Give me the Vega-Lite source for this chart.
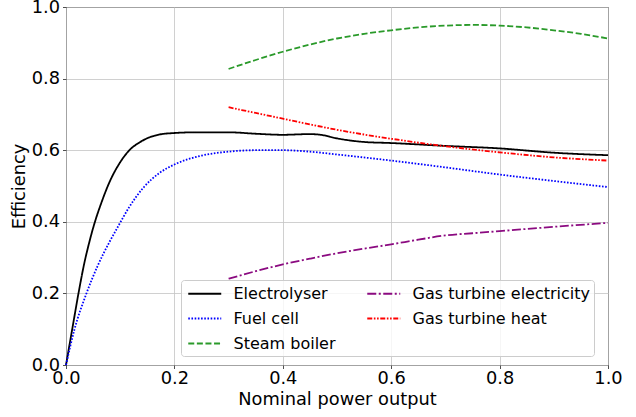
{
  "$schema": "https://vega.github.io/schema/vega-lite/v6.json",
  "width": 542,
  "height": 358,
  "autosize": "none",
  "padding": {"left": 66, "top": 7, "right": 28, "bottom": 52},
  "background": "white",
  "config": {
    "font": "DejaVu Sans",
    "view": {"stroke": "#222", "strokeWidth": 1},
    "axis": {
      "labelFontSize": 17.8, "titleFontSize": 17.8, "labelColor": "black", "titleColor": "black",
      "titleFontWeight": "normal", "gridColor": "#c4c4c4", "gridWidth": 0.8,
      "tickColor": "#222", "tickSize": 3.5, "tickWidth": 0.8, "domain": false, "labelPadding": 3
    },
    "legend": {
      "labelFontSize": 16, "labelColor": "black", "labelFont": "DejaVu Sans"
    }
  },
  "data": {
    "values": [
      {"series": "Electrolyser", "x": 0, "y": 0},
      {"series": "Electrolyser", "x": 0.0125, "y": 0.109},
      {"series": "Electrolyser", "x": 0.023, "y": 0.2},
      {"series": "Electrolyser", "x": 0.034, "y": 0.286},
      {"series": "Electrolyser", "x": 0.043, "y": 0.343},
      {"series": "Electrolyser", "x": 0.0526, "y": 0.396},
      {"series": "Electrolyser", "x": 0.065, "y": 0.452},
      {"series": "Electrolyser", "x": 0.08, "y": 0.51},
      {"series": "Electrolyser", "x": 0.099, "y": 0.564},
      {"series": "Electrolyser", "x": 0.117, "y": 0.6},
      {"series": "Electrolyser", "x": 0.136, "y": 0.622},
      {"series": "Electrolyser", "x": 0.154, "y": 0.636},
      {"series": "Electrolyser", "x": 0.173, "y": 0.644},
      {"series": "Electrolyser", "x": 0.2, "y": 0.648},
      {"series": "Electrolyser", "x": 0.24, "y": 0.65},
      {"series": "Electrolyser", "x": 0.3, "y": 0.65},
      {"series": "Electrolyser", "x": 0.35, "y": 0.646},
      {"series": "Electrolyser", "x": 0.4, "y": 0.643},
      {"series": "Electrolyser", "x": 0.45, "y": 0.645},
      {"series": "Electrolyser", "x": 0.47, "y": 0.643},
      {"series": "Electrolyser", "x": 0.5, "y": 0.633},
      {"series": "Electrolyser", "x": 0.55, "y": 0.623},
      {"series": "Electrolyser", "x": 0.6, "y": 0.62},
      {"series": "Electrolyser", "x": 0.7, "y": 0.612},
      {"series": "Electrolyser", "x": 0.8, "y": 0.605},
      {"series": "Electrolyser", "x": 0.9, "y": 0.593},
      {"series": "Electrolyser", "x": 1.0, "y": 0.586},
      {"series": "Fuel cell", "x": 0, "y": 0},
      {"series": "Fuel cell", "x": 0.0157, "y": 0.1},
      {"series": "Fuel cell", "x": 0.037, "y": 0.197},
      {"series": "Fuel cell", "x": 0.0587, "y": 0.278},
      {"series": "Fuel cell", "x": 0.08, "y": 0.343},
      {"series": "Fuel cell", "x": 0.0957, "y": 0.386},
      {"series": "Fuel cell", "x": 0.117, "y": 0.442},
      {"series": "Fuel cell", "x": 0.142, "y": 0.494},
      {"series": "Fuel cell", "x": 0.173, "y": 0.537},
      {"series": "Fuel cell", "x": 0.2, "y": 0.56},
      {"series": "Fuel cell", "x": 0.25, "y": 0.585},
      {"series": "Fuel cell", "x": 0.3, "y": 0.596},
      {"series": "Fuel cell", "x": 0.35, "y": 0.6},
      {"series": "Fuel cell", "x": 0.4, "y": 0.6},
      {"series": "Fuel cell", "x": 0.45, "y": 0.596},
      {"series": "Fuel cell", "x": 0.5, "y": 0.588},
      {"series": "Fuel cell", "x": 0.6, "y": 0.571},
      {"series": "Fuel cell", "x": 0.7, "y": 0.552},
      {"series": "Fuel cell", "x": 0.8, "y": 0.532},
      {"series": "Fuel cell", "x": 0.9, "y": 0.514},
      {"series": "Fuel cell", "x": 1.0, "y": 0.497},
      {"series": "Steam boiler", "x": 0.3, "y": 0.827},
      {"series": "Steam boiler", "x": 0.35, "y": 0.852},
      {"series": "Steam boiler", "x": 0.4, "y": 0.875},
      {"series": "Steam boiler", "x": 0.45, "y": 0.895},
      {"series": "Steam boiler", "x": 0.5, "y": 0.912},
      {"series": "Steam boiler", "x": 0.55, "y": 0.925},
      {"series": "Steam boiler", "x": 0.6, "y": 0.935},
      {"series": "Steam boiler", "x": 0.65, "y": 0.943},
      {"series": "Steam boiler", "x": 0.7, "y": 0.948},
      {"series": "Steam boiler", "x": 0.75, "y": 0.95},
      {"series": "Steam boiler", "x": 0.8, "y": 0.948},
      {"series": "Steam boiler", "x": 0.85, "y": 0.943},
      {"series": "Steam boiler", "x": 0.9, "y": 0.935},
      {"series": "Steam boiler", "x": 0.95, "y": 0.925},
      {"series": "Steam boiler", "x": 1.0, "y": 0.912},
      {"series": "Gas turbine electricity", "x": 0.3, "y": 0.241},
      {"series": "Gas turbine electricity", "x": 0.35, "y": 0.262},
      {"series": "Gas turbine electricity", "x": 0.4, "y": 0.281},
      {"series": "Gas turbine electricity", "x": 0.45, "y": 0.297},
      {"series": "Gas turbine electricity", "x": 0.5, "y": 0.312},
      {"series": "Gas turbine electricity", "x": 0.55, "y": 0.325},
      {"series": "Gas turbine electricity", "x": 0.6, "y": 0.337},
      {"series": "Gas turbine electricity", "x": 0.65, "y": 0.35},
      {"series": "Gas turbine electricity", "x": 0.7, "y": 0.362},
      {"series": "Gas turbine electricity", "x": 0.75, "y": 0.368},
      {"series": "Gas turbine electricity", "x": 0.8, "y": 0.374},
      {"series": "Gas turbine electricity", "x": 0.9, "y": 0.386},
      {"series": "Gas turbine electricity", "x": 1.0, "y": 0.397},
      {"series": "Gas turbine heat", "x": 0.3, "y": 0.72},
      {"series": "Gas turbine heat", "x": 0.35, "y": 0.704},
      {"series": "Gas turbine heat", "x": 0.4, "y": 0.688},
      {"series": "Gas turbine heat", "x": 0.45, "y": 0.672},
      {"series": "Gas turbine heat", "x": 0.5, "y": 0.657},
      {"series": "Gas turbine heat", "x": 0.6, "y": 0.632},
      {"series": "Gas turbine heat", "x": 0.7, "y": 0.611},
      {"series": "Gas turbine heat", "x": 0.8, "y": 0.594},
      {"series": "Gas turbine heat", "x": 0.9, "y": 0.58},
      {"series": "Gas turbine heat", "x": 1.0, "y": 0.571}
    ]
  },
  "mark": {"type": "line", "interpolate": "monotone", "strokeWidth": 1.8},
  "encoding": {
    "x": {
      "field": "x", "type": "quantitative",
      "scale": {"domain": [0, 1], "nice": false},
      "axis": {"values": [0, 0.2, 0.4, 0.6, 0.8, 1.0], "format": ".1f", "title": "Nominal power output", "titlePadding": 3, "labelPadding": 1, "labelFlush": false}
    },
    "y": {
      "field": "y", "type": "quantitative",
      "scale": {"domain": [0, 1], "nice": false},
      "axis": {"values": [0, 0.2, 0.4, 0.6, 0.8, 1.0], "format": ".1f", "title": "Efficiency", "titlePadding": 3, "labelFlush": false}
    },
    "color": {
      "field": "series", "type": "nominal",
      "scale": {
        "domain": ["Electrolyser", "Fuel cell", "Steam boiler", "Gas turbine electricity", "Gas turbine heat"],
        "range": ["#000000", "#0000ff", "#2a9a2a", "#8b0a80", "#ff0000"]
      },
      "legend": {
        "title": null, "orient": "none", "legendX": 115, "legendY": 273, "columns": 2,
        "symbolType": "M-1,0L3,0", "symbolSize": 272, "symbolStrokeWidth": 1.8, "symbolOffset": 2,
        "labelOffset": 27.5, "labelLimit": 400, "columnPadding": 27, "rowPadding": 7, "padding": 4,
        "fillColor": "rgba(255,255,255,0.8)", "strokeColor": "#cccccc", "cornerRadius": 3
      }
    },
    "strokeDash": {
      "field": "series", "type": "nominal",
      "scale": {
        "domain": ["Electrolyser", "Fuel cell", "Steam boiler", "Gas turbine electricity", "Gas turbine heat"],
        "range": [[1, 0], [1.6, 1.6], [6, 2.6], [9, 2.5, 2, 2.5], [5, 1.6, 1.6, 1.6, 1.6, 1.6]]
      },
      "legend": {
        "title": null, "orient": "none", "legendX": 115, "legendY": 273, "columns": 2,
        "symbolType": "M-1,0L3,0", "symbolSize": 272, "symbolStrokeWidth": 1.8, "symbolOffset": 2,
        "labelOffset": 27.5, "labelLimit": 400, "columnPadding": 27, "rowPadding": 7, "padding": 4,
        "fillColor": "rgba(255,255,255,0.8)", "strokeColor": "#cccccc", "cornerRadius": 3
      }
    }
  }
}
